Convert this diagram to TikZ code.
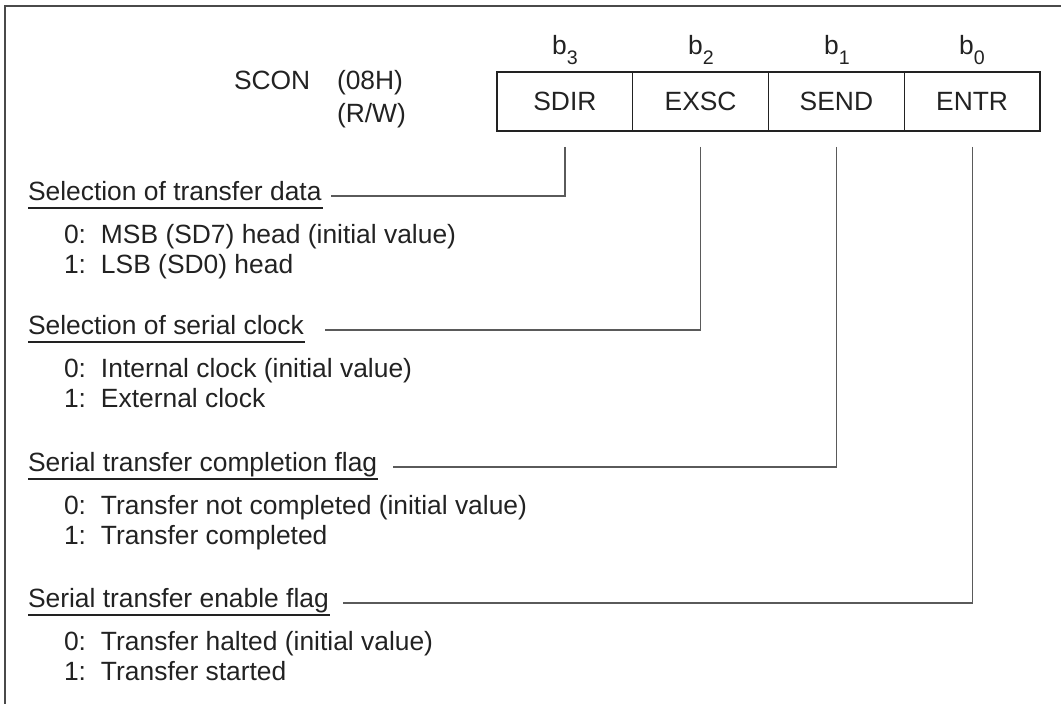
\documentclass[tikz,border=0pt]{standalone}
\usepackage{fontspec}
\setmainfont{Liberation Sans}
\usetikzlibrary{calc}
\definecolor{ink}{HTML}{222222}
\definecolor{wire}{HTML}{5A5A5A}
\definecolor{framec}{HTML}{4A4A4A}
\begin{document}
\begin{tikzpicture}[x=0.5pt,y=-0.5pt,
  every node/.style={inner sep=0pt, outer sep=0pt, text=ink, font=\fontsize{13.2}{16}\selectfont},
  cell/.style={draw=ink, line width=0.6pt, minimum width=67.875pt, minimum height=29.5pt, anchor=center},
  bitlbl/.style={anchor=base},
  head/.style={anchor=base west},
  item/.style={anchor=base west},
  wire/.style={draw=wire, line width=0.6pt},
  uline/.style={draw=ink, line width=0.6pt},
  framel/.style={draw=framec, line width=1pt}
]
\useasboundingbox (0,0) rectangle (1061,704);
% frame
\draw[framel] (5,704) -- (5,6) -- (1061,6);

% register name
\node[anchor=base west] (scon) at (234,90) {SCON};
\node[anchor=base west] (addr) at (337,90) {(08H)};
\node[anchor=base west] (rw) at (337,123) {(R/W)};

% register cells
\node[cell] (sdir) at (564.9,101.5) {SDIR};
\node[cell] (exsc) at (700.6,101.5) {EXSC};
\node[cell] (send) at (836.4,101.5) {SEND};
\node[cell] (entr) at (972.1,101.5) {ENTR};

% bit labels
\newcommand{\bitsub}[1]{b\raisebox{-4.6pt}{\fontsize{9.8}{10}\selectfont #1}}
\node[bitlbl] (b3) at (565,55) {\bitsub{3}};
\node[bitlbl] (b2) at (701,55) {\bitsub{2}};
\node[bitlbl] (b1) at (837,55) {\bitsub{1}};
\node[bitlbl] (b0) at (972,55) {\bitsub{0}};

% group 1
\node[head] (h1) at (28,201) {Selection of transfer data};
\draw[uline] ($(h1.base west)+(0,7)$) -- ($(h1.base east)+(1,7)$);
\node[item] (i10) at (64,244) {\makebox[18.5pt][l]{0:}MSB (SD7) head (initial value)};
\node[item] (i11) at (64,274) {\makebox[18.5pt][l]{1:}LSB (SD0) head};
\coordinate (e1) at (331,196);
\draw[wire] ($(sdir.south)+(0,16)$) |- (e1);

% group 2
\node[head] (h2) at (28,335) {Selection of serial clock};
\draw[uline] ($(h2.base west)+(0,7)$) -- ($(h2.base east)+(1,7)$);
\node[item] (i20) at (64,378) {\makebox[18.5pt][l]{0:}Internal clock (initial value)};
\node[item] (i21) at (64,408) {\makebox[18.5pt][l]{1:}External clock};
\coordinate (e2) at (325,330);
\draw[wire] ($(exsc.south)+(0,16)$) |- (e2);

% group 3
\node[head] (h3) at (28,472) {Serial transfer completion flag};
\draw[uline] ($(h3.base west)+(0,7)$) -- ($(h3.base east)+(1,7)$);
\node[item] (i30) at (64,515) {\makebox[18.5pt][l]{0:}Transfer not completed (initial value)};
\node[item] (i31) at (64,545) {\makebox[18.5pt][l]{1:}Transfer completed};
\coordinate (e3) at (393,467);
\draw[wire] ($(send.south)+(0,16)$) |- (e3);

% group 4
\node[head] (h4) at (28,608) {Serial transfer enable flag};
\draw[uline] ($(h4.base west)+(0,7)$) -- ($(h4.base east)+(1,7)$);
\node[item] (i40) at (64,651) {\makebox[18.5pt][l]{0:}Transfer halted (initial value)};
\node[item] (i41) at (64,681) {\makebox[18.5pt][l]{1:}Transfer started};
\coordinate (e4) at (343,603);
\draw[wire] ($(entr.south)+(0,16)$) |- (e4);
\end{tikzpicture}
\end{document}
